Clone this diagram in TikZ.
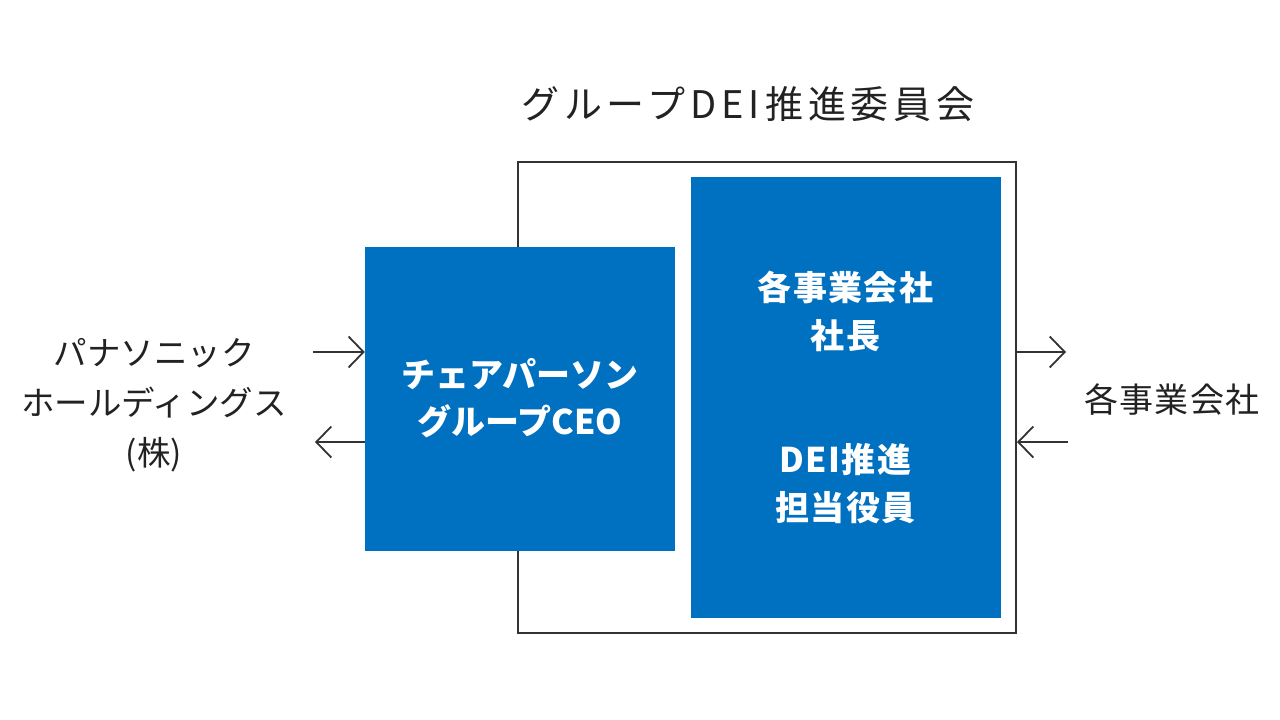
\documentclass[tikz,border=0pt]{standalone}
\usepackage{fontspec}
\setmainfont{Noto Sans CJK JP}
\usetikzlibrary{arrows.meta}
\definecolor{pblue}{HTML}{0070C0}
\definecolor{ink}{HTML}{222222}
\definecolor{frame}{HTML}{333333}
\tikzset{
  bluebox/.style={fill=pblue, draw=none, inner sep=0pt, text=white, font=\bfseries\fontsize{34}{47}\selectfont, align=center},
  whitetxt/.style={text=white, inner sep=0pt, font=\bfseries\fontsize{34}{48}\selectfont\addfontfeature{LetterSpace=4}, align=center},
  label/.style={text=ink, inner sep=0pt, font=\fontsize{33.5}{50}\selectfont, align=center},
  flow/.style={draw=frame, line width=1.8pt, -{Straight Barb[length=15pt,width=31pt,line width=1.8pt]}},
}
\begin{document}
\begin{tikzpicture}[x=1pt,y=-1pt]
\useasboundingbox (0,0) rectangle (1280,720);
% title
\node[text=ink, inner sep=0pt, font=\fontsize{38}{44}\selectfont\addfontfeature{LetterSpace=13}] (title) at (748,104) {グループDEI推進委員会};
% outer committee frame
\node[draw=frame, line width=2pt, inner sep=0pt, minimum width=498.5pt, minimum height=471.5pt] (frame) at (766.75,397.25) {};
% boxes
\node[bluebox, minimum width=309.5pt, minimum height=304pt] (chair) at (519.75,398.5) {チェアパーソン\\グループCEO};
\node[bluebox, minimum width=310pt, minimum height=441pt] (exec) at (845.5,397) {};
\node[whitetxt] (pres) at (845.5,311) {各事業会社\\社長};
\node[whitetxt] (dei) at (845.5,484) {DEI推進\\担当役員};
% side labels
\node[label] (hd) at (154,405) {パナソニック\\ホールディングス\\(株)};
\node[label, font=\fontsize{34}{50}\selectfont\addfontfeature{LetterSpace=4}] (cos) at (1172,400) {各事業会社};
% arrows
\coordinate (l1) at (313,352);
\coordinate (l2) at (315,442);
\coordinate (r1) at (1066,352);
\coordinate (r2) at (1068,442);
\draw[flow] (l1) -- (l1 -| chair.west);
\draw[flow] (l2 -| chair.west) -- (l2);
\draw[flow] (r1 -| frame.east) -- (r1);
\draw[flow] (r2) -- (r2 -| frame.east);
\end{tikzpicture}
\end{document}
